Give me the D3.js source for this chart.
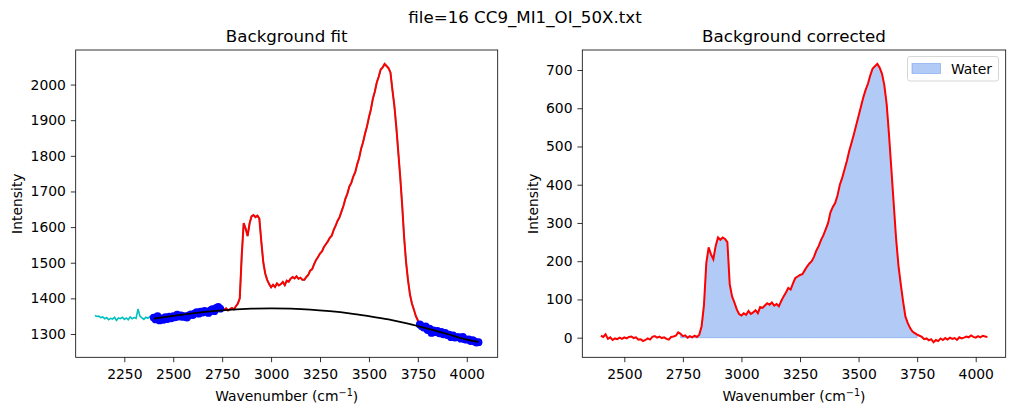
<!DOCTYPE html>
<html>
<head>
<meta charset="utf-8">
<script src="https://cdn.jsdelivr.net/npm/d3@7"></script>
<style>
  body { margin: 0; background: #fff; }
  svg { font-family: "DejaVu Sans", sans-serif; }
  .tick text { font-size: 13.9px; fill: #000; }
  .tick line { stroke: #000; stroke-width: 0.8; }
</style>
</head>
<body>
<div id="chart-area"></div>
<script>
// raw spectrum, sampled every 10 cm-1 from 2100 to 4060
var rawWavenumber = d3.range(2100, 4061, 10);
var rawIntensity = [
  1352, 1349, 1350, 1346, 1348, 1343, 1346, 1340, 1344, 1342,
  1347, 1338, 1345, 1343, 1347, 1341, 1345, 1340, 1348, 1343,
  1346, 1344, 1370, 1350, 1345, 1341, 1347, 1344, 1349, 1343,
  // 2400
  1346, 1341, 1350, 1338, 1344, 1340, 1347, 1342, 1349, 1344,
  1350, 1347, 1354, 1349, 1352, 1348, 1350, 1346, 1352, 1355,
  1353, 1358, 1361, 1357, 1363, 1360, 1365, 1362, 1359, 1366,
  1370, 1364, 1373, 1376, 1371, 1374, 1368, 1372, 1366, 1370,
  1373, 1369, 1378,
  // 2830
  1385, 1400, 1520, 1611, 1596, 1575, 1610, 1630, 1634, 1628,
  1632, 1624, 1560, 1502, 1470, 1452, 1440, 1431,
  // 3010
  1438, 1432, 1442, 1436, 1440, 1446, 1437, 1450, 1447, 1455,
  1460, 1456, 1462, 1455, 1458, 1452, 1452, 1460, 1466, 1478,
  1482, 1496, 1508, 1516, 1526, 1532, 1544, 1552, 1560, 1570,
  1576, 1592, 1604, 1618, 1628, 1644, 1660,
  // 3380
  1680, 1694, 1714, 1724, 1742, 1754, 1776, 1794, 1820, 1838,
  1862, 1882, 1908, 1930, 1960, 1980, 2006, 2022, 2042, 2048,
  2058,
  // 3590
  2052, 2046, 2034, 1985, 1940, 1880, 1810, 1740, 1660, 1570,
  1500, 1450, 1410, 1385, 1368, 1350, 1338,
  // 3760
  1327, 1322, 1318, 1321, 1311, 1315, 1303, 1310, 1305, 1309,
  1302, 1306, 1299, 1303, 1297, 1298, 1291, 1296, 1290, 1291,
  1291, 1287, 1292, 1285, 1284, 1285, 1280, 1283, 1279, 1276,
  1277
];

// polynomial background
var fitWavenumber = [2400, 2500, 2600, 2700, 2800, 2900, 3000, 3100, 3200,
                     3300, 3400, 3500, 3600, 3700, 3800, 3900, 4000, 4060];
var fitIntensity = [1343, 1351, 1358, 1364, 1368.5, 1371, 1372, 1371, 1368.5,
                    1364, 1358, 1350, 1341, 1329, 1315, 1300, 1284, 1278];

// corrected spectrum, every 10 cm-1 from 2400 to 4050
var corrWavenumber = d3.range(2400, 4051, 10);
var corrIntensity = [
  5, 2, 9, -3, 1, -6, -2, -4, 0, -3,
  1, -2, 2, 3, -1, 1, -5, -4, -9, -6,
  -2, -5, 2, 4, 0, 3, -1, 1, -3, -5,
  2, 3, 5, 14, 10, 4, 6, 0, 4, 1,
  5, 2, 8,
  // 2830
  30, 85, 195, 236, 218, 205, 240, 262, 256, 262,
  258, 250, 140, 108, 92, 74, 62, 58,
  // 3010
  64, 60, 70, 62, 66, 72, 64, 80, 78, 84,
  90, 86, 92, 84, 88, 82, 96, 108, 118, 130,
  126, 142, 156, 160, 164, 166, 176, 186, 194, 200,
  212, 228, 240, 256, 268, 284, 300,
  // 3380
  328, 342, 352, 372, 400, 418, 440, 462, 488, 510,
  532, 556, 580, 604, 628, 648, 664, 686, 704, 710,
  716,
  // 3590
  706, 690, 660, 610, 530, 440, 350, 260, 190, 140,
  95, 55, 38, 25, 16, 12, 8,
  // 3760
  5, 2, -4, -2, -7, -4, -12, -6, -9, -2,
  -6, -1, -5, 0, -3, -1, -6, 1, -2, 0,
  3, 1, 6, 2, 0, 4, 1, 5, 3, 2
];

var baselineRanges = [[2400, 2740], [3760, 4060]];
var waterRange = [2740, 3750];

var leftXTicks = [2250, 2500, 2750, 3000, 3250, 3500, 3750, 4000];
var leftYTicks = [1300, 1400, 1500, 1600, 1700, 1800, 1900, 2000];
var rightXTicks = [2500, 2750, 3000, 3250, 3500, 3750, 4000];
var rightYTicks = [0, 100, 200, 300, 400, 500, 600, 700];

var W = 1014, H = 416;
var svg = d3.select("#chart-area").append("svg")
  .attr("width", W).attr("height", H);
svg.append("rect").attr("width", W).attr("height", H).attr("fill", "#fff");

var plotTop = 50, plotBottom = 357.3;

svg.append("text")
  .attr("x", 525).attr("y", 22.5)
  .attr("text-anchor", "middle")
  .attr("font-size", "16.67px")
  .text("file=16 CC9_MI1_OI_50X.txt");

function makeAxes(left, right, xDomain, yDomain, xTicks, yTicks, title, ylabX) {
  var g = svg.append("g");
  var x = d3.scaleLinear().domain(xDomain).range([left, right]);
  var y = d3.scaleLinear().domain(yDomain).range([plotBottom, plotTop]);

  var clipId = "clip" + Math.round(left);
  svg.append("clipPath").attr("id", clipId)
    .append("rect")
      .attr("x", left).attr("y", plotTop)
      .attr("width", right - left).attr("height", plotBottom - plotTop);
  var plot = g.append("g").attr("clip-path", "url(#" + clipId + ")");

  var xa = g.append("g")
    .attr("transform", "translate(0," + plotBottom + ")")
    .call(d3.axisBottom(x).tickValues(xTicks).tickSize(4.9).tickPadding(6.5).tickFormat(d3.format("d")));
  var ya = g.append("g")
    .attr("transform", "translate(" + left + ",0)")
    .call(d3.axisLeft(y).tickValues(yTicks).tickSize(4.9).tickPadding(4.9).tickFormat(d3.format("d")));
  xa.select(".domain").remove();
  ya.select(".domain").remove();
  xa.attr("font-family", null).attr("font-size", null);
  ya.attr("font-family", null).attr("font-size", null);

  g.append("rect")
    .attr("x", left).attr("y", plotTop)
    .attr("width", right - left).attr("height", plotBottom - plotTop)
    .attr("fill", "none").attr("stroke", "#000").attr("stroke-width", 0.8);

  g.append("text")
    .attr("x", (left + right) / 2).attr("y", plotTop - 8)
    .attr("text-anchor", "middle")
    .attr("font-size", "16.67px")
    .text(title);

  var xl = g.append("text")
    .attr("x", (left + right) / 2).attr("y", 400.5)
    .attr("text-anchor", "middle")
    .attr("font-size", "13.9px");
  xl.append("tspan").text("Wavenumber (cm");
  xl.append("tspan").attr("dy", "-0.45em").attr("font-size", "9.7px").text("\u22121");
  xl.append("tspan").attr("dy", "0.45em").text(")");

  g.append("text")
    .attr("transform", "translate(" + ylabX + "," + ((plotTop + plotBottom) / 2) + ") rotate(-90)")
    .attr("text-anchor", "middle")
    .attr("font-size", "13.9px")
    .text("Intensity");

  return { x: x, y: y, plot: plot };
}

// ---- left: background fit
var L = makeAxes(75.7, 497.7, [2001.6, 4158], [1234.6, 2097],
  leftXTicks, leftYTicks, "Background fit", 21.5);

var raw = rawWavenumber.map(function(d, i) { return { x: d, y: rawIntensity[i] }; });

var lineL = d3.line()
  .x(function(d) { return L.x(d.x); })
  .y(function(d) { return L.y(d.y); });

L.plot.append("path").datum(raw)
  .attr("d", lineL)
  .attr("fill", "none").attr("stroke", "#00bfbf").attr("stroke-width", 1.6);

L.plot.append("path").datum(raw.filter(function(d) { return d.x >= 2400; }))
  .attr("d", lineL)
  .attr("fill", "none").attr("stroke", "red").attr("stroke-width", 2);

var basePts = raw.filter(function(d) {
  return baselineRanges.some(function(r) { return d.x >= r[0] && d.x <= r[1]; });
});
L.plot.selectAll("circle.base").data(basePts).enter()
  .append("circle")
    .attr("class", "base")
    .attr("cx", function(d) { return L.x(d.x); })
    .attr("cy", function(d) { return L.y(d.y); })
    .attr("r", 3.9)
    .attr("fill", "blue");

var fit = fitWavenumber.map(function(d, i) { return { x: d, y: fitIntensity[i] }; });
L.plot.append("path").datum(fit)
  .attr("d", lineL.curve(d3.curveNatural))
  .attr("fill", "none").attr("stroke", "#000").attr("stroke-width", 1.8);

// ---- right: background corrected
var R = makeAxes(582.3, 1005.7, [2320.7, 4128], [-51.3, 752.3],
  rightXTicks, rightYTicks, "Background corrected", 538);

var corr = corrWavenumber.map(function(d, i) { return { x: d, y: corrIntensity[i] }; });

var water = corr.filter(function(d) { return d.x >= waterRange[0] && d.x <= waterRange[1]; });
R.plot.append("path").datum(water)
  .attr("d", d3.area()
    .x(function(d) { return R.x(d.x); })
    .y0(R.y(0))
    .y1(function(d) { return R.y(d.y); }))
  .attr("fill", "cornflowerblue").attr("fill-opacity", 0.5)
  .attr("stroke", "cornflowerblue").attr("stroke-opacity", 0.5).attr("stroke-width", 1);

R.plot.append("path").datum(corr)
  .attr("d", d3.line()
    .x(function(d) { return R.x(d.x); })
    .y(function(d) { return R.y(d.y); }))
  .attr("fill", "none").attr("stroke", "red").attr("stroke-width", 2);

// legend
var leg = svg.append("g");
leg.append("rect")
  .attr("x", 907.5).attr("y", 56.5).attr("width", 91).attr("height", 24.5)
  .attr("rx", 2.5)
  .attr("fill", "#fff").attr("fill-opacity", 0.8)
  .attr("stroke", "#ccc").attr("stroke-width", 0.8);
leg.append("rect")
  .attr("x", 912).attr("y", 63.5).attr("width", 28.5).attr("height", 10)
  .attr("fill", "cornflowerblue").attr("fill-opacity", 0.5)
  .attr("stroke", "cornflowerblue").attr("stroke-opacity", 0.5).attr("stroke-width", 1);
leg.append("text")
  .attr("x", 951).attr("y", 73.5)
  .attr("font-size", "13.9px")
  .text("Water");
</script>
</body>
</html>
